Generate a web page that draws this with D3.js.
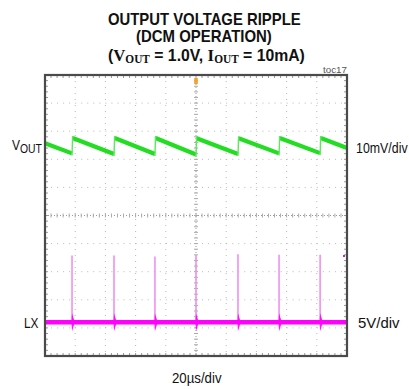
<!DOCTYPE html>
<html>
<head>
<meta charset="utf-8">
<script src="https://cdn.jsdelivr.net/npm/d3@7"></script>
<style>
  html, body { margin: 0; padding: 0; background: #fff; }
  svg { display: block; }
</style>
</head>
<body>
<svg id="scope" width="409" height="389"></svg>
<script>
// Horizontal: 20 µs/div, 10 divisions
const timeDomainUs = [0, 200];
// Vertical: 10 divisions, centre = 0
const divDomain = [-5, 5];
const voutScaleMvPerDiv = 10;
const lxScaleVPerDiv = 5;
const lxGroundDiv = -3.8;

// Switching instants (µs)
const switchTimesUs = [17.9, 45.7, 72.8, 100.0, 127.8, 155.0, 182.2];
// VOUT ripple (mV, referred to screen centre)
const voutStartMv = 25.7;
const voutPeaksMv = [27.6, 27.6, 27.6, 27.5, 27.5, 27.6, 27.6];
const voutTroughsMv = [22.1, 21.9, 21.9, 21.7, 21.9, 22.1, 22.2];
const voutEndMv = 24.0;
// LX switching spikes (V) and ring amplitude (V)
const lxSpikeV = [11.9, 11.9, 11.7, 11.9, 12.1, 12.0, 12.0];
const lxRingV = 1.6;

const svg = d3.select("#scope");
const frame = { left: 45, right: 347, top: 75, bottom: 356 };

const x = d3.scaleLinear().domain(timeDomainUs).range([frame.left, frame.right]);
const y = d3.scaleLinear().domain(divDomain).range([frame.bottom, frame.top]);
const yVout = mv => y(mv / voutScaleMvPerDiv);
const yLx = v => y(lxGroundDiv + v / lxScaleVPerDiv);

const SANS = "'Liberation Sans', Arial, Helvetica, sans-serif";
const SERIF = "'Liberation Serif', 'Times New Roman', serif";

// Squeeze a text node horizontally to a given width, left-aligned at x0
function fitText(node, x0, width) {
  const bb = node.getBBox();
  const s = width / bb.width;
  d3.select(node).attr("transform", `translate(${x0 - bb.x * s},0) scale(${s},1)`);
}

// ---------- grid ----------
const grid = svg.append("g");
const xTicks = d3.range(0, 201, 20);
const yTicks = d3.range(-5, 6, 1);

grid.selectAll("line.gx").data(xTicks.filter(t => t > 0 && t < 200 && t !== 100))
  .join("line").attr("class", "gx")
  .attr("x1", d => x(d)).attr("x2", d => x(d))
  .attr("y1", frame.top).attr("y2", frame.bottom)
  .attr("stroke", "#b8b8b8").attr("stroke-width", 1).attr("stroke-dasharray", "1,5");

grid.selectAll("line.gy").data(yTicks.filter(t => t > -5 && t < 5 && t !== 0))
  .join("line").attr("class", "gy")
  .attr("x1", frame.left).attr("x2", frame.right)
  .attr("y1", d => y(d)).attr("y2", d => y(d))
  .attr("stroke", "#b8b8b8").attr("stroke-width", 1).attr("stroke-dasharray", "1,5.04");

// centre cross with minor ticks
grid.append("line")
  .attr("x1", x(100)).attr("x2", x(100)).attr("y1", frame.top).attr("y2", frame.bottom)
  .attr("stroke", "#999").attr("stroke-dasharray", "1,2");
grid.append("line")
  .attr("x1", frame.left).attr("x2", frame.right).attr("y1", y(0)).attr("y2", y(0))
  .attr("stroke", "#999").attr("stroke-dasharray", "1,2");

const minorX = d3.range(0, 200.01, 4);
const minorY = d3.range(-5, 5.001, 0.2);
grid.selectAll("line.mxc").data(minorX).join("line").attr("class", "mxc")
  .attr("x1", d => x(d)).attr("x2", d => x(d))
  .attr("y1", y(0) - 2).attr("y2", y(0) + 2).attr("stroke", "#aaa");
grid.selectAll("line.myc").data(minorY).join("line").attr("class", "myc")
  .attr("y1", d => y(d)).attr("y2", d => y(d))
  .attr("x1", x(100) - 2).attr("x2", x(100) + 2).attr("stroke", "#aaa");

// minor ticks along the frame edges
grid.selectAll("line.mxt").data(minorX).join("line").attr("class", "mxt")
  .attr("x1", d => x(d)).attr("x2", d => x(d))
  .attr("y1", frame.top).attr("y2", frame.top + 3).attr("stroke", "#999");
grid.selectAll("line.mxb").data(minorX).join("line").attr("class", "mxb")
  .attr("x1", d => x(d)).attr("x2", d => x(d))
  .attr("y1", frame.bottom).attr("y2", frame.bottom - 3).attr("stroke", "#999");
grid.selectAll("line.myl").data(minorY).join("line").attr("class", "myl")
  .attr("y1", d => y(d)).attr("y2", d => y(d))
  .attr("x1", frame.left).attr("x2", frame.left + 3).attr("stroke", "#999");
grid.selectAll("line.myr").data(minorY).join("line").attr("class", "myr")
  .attr("y1", d => y(d)).attr("y2", d => y(d))
  .attr("x1", frame.right).attr("x2", frame.right - 3).attr("stroke", "#999");

// ---------- VOUT trace ----------
const green = "#22dd22";
const vout = svg.append("g");
const ramps = [];
ramps.push([[timeDomainUs[0], voutStartMv], [switchTimesUs[0], voutTroughsMv[0]]]);
switchTimesUs.forEach((t, i) => {
  const tNext = i + 1 < switchTimesUs.length ? switchTimesUs[i + 1] : timeDomainUs[1];
  const vNext = i + 1 < switchTimesUs.length ? voutTroughsMv[i + 1] : voutEndMv;
  ramps.push([[t + 0.4, voutPeaksMv[i]], [tNext, vNext]]);
});
const rampLine = d3.line().x(d => x(d[0])).y(d => yVout(d[1]));
vout.selectAll("path.ramp").data(ramps).join("path").attr("class", "ramp")
  .attr("d", rampLine).attr("fill", "none")
  .attr("stroke", green).attr("stroke-width", 4.2).attr("stroke-linecap", "butt");
// rising edges at each switching event
vout.selectAll("line.edge").data(switchTimesUs).join("line").attr("class", "edge")
  .attr("x1", d => x(d)).attr("x2", (d) => x(d + 0.4))
  .attr("y1", (d, i) => yVout(voutTroughsMv[i]) + 2)
  .attr("y2", (d, i) => yVout(voutPeaksMv[i]) - 2)
  .attr("stroke", "#5ee85e").attr("stroke-width", 1.4);

// ---------- LX trace ----------
const magenta = "#ff00ff";
const lx = svg.append("g");
lx.selectAll("line.spike").data(switchTimesUs).join("line").attr("class", "spike")
  .attr("x1", d => x(d)).attr("x2", d => x(d))
  .attr("y1", yLx(0)).attr("y2", (d, i) => yLx(lxSpikeV[i]))
  .attr("stroke", "#f090f0").attr("stroke-width", 1.6);
lx.append("line")
  .attr("x1", x(timeDomainUs[0])).attr("x2", x(timeDomainUs[1]))
  .attr("y1", yLx(0)).attr("y2", yLx(0))
  .attr("stroke", magenta).attr("stroke-width", 4.6);
// ringing after each edge
lx.selectAll("path.ring").data(switchTimesUs).join("path").attr("class", "ring")
  .attr("d", d => {
    const cx = x(d), cy = yLx(0), a = yLx(0) - yLx(lxRingV);
    return `M${cx},${cy - a} L${cx + 2.2},${cy - 2} L${cx + 4.5},${cy} L${cx + 2.2},${cy + 2} L${cx},${cy + a} L${cx - 0.6},${cy} Z`;
  })
  .attr("fill", magenta).attr("opacity", 0.9);
// channel marker dot
svg.append("rect").attr("x", 343).attr("y", 255).attr("width", 2).attr("height", 2).attr("fill", "#d020d0");

// trigger position marker
svg.append("rect").attr("x", x(100) - 1.8).attr("y", frame.top + 3).attr("width", 3.6).attr("height", 6)
  .attr("fill", "#f5a030");

// ---------- frame ----------
svg.append("rect")
  .attr("x", frame.left).attr("y", frame.top)
  .attr("width", frame.right - frame.left).attr("height", frame.bottom - frame.top)
  .attr("fill", "none").attr("stroke", "#4a4a4a").attr("stroke-width", 2.2);

// ---------- text ----------
const t1 = svg.append("text").attr("y", 25).attr("font-family", SANS).attr("font-weight", "bold")
  .attr("font-size", 16).attr("fill", "#111").text("OUTPUT VOLTAGE RIPPLE");
fitText(t1.node(), 108, 193);
const t2 = svg.append("text").attr("y", 42.5).attr("font-family", SANS).attr("font-weight", "bold")
  .attr("font-size", 16).attr("fill", "#111").text("(DCM OPERATION)");
fitText(t2.node(), 136, 136);
const t3 = svg.append("text").attr("y", 61).attr("font-family", SANS).attr("font-weight", "bold")
  .attr("font-size", 16).attr("fill", "#111");
t3.append("tspan").text("(");
t3.append("tspan").attr("font-family", SERIF).attr("font-size", 17).text("V");
t3.append("tspan").attr("font-family", SERIF).attr("font-size", 11.5).attr("dy", 2.5).text("OUT");
t3.append("tspan").attr("dy", -2.5).text(" = 1.0V, ");
t3.append("tspan").attr("font-family", SERIF).attr("font-size", 17).text("I");
t3.append("tspan").attr("font-family", SERIF).attr("font-size", 11.5).attr("dy", 2.5).text("OUT");
t3.append("tspan").attr("dy", -2.5).text(" = 10mA)");
fitText(t3.node(), 108, 197);

const toc = svg.append("text").attr("y", 73).attr("font-family", SANS).attr("font-size", 9.5)
  .attr("fill", "#555").text("toc17");
fitText(toc.node(), 323, 24);

const vLab = svg.append("text").attr("y", 150.5).attr("font-family", SANS).attr("font-size", 15).attr("fill", "#111");
vLab.append("tspan").text("V");
vLab.append("tspan").attr("font-size", 13).attr("dy", 2.5).text("OUT");
fitText(vLab.node(), 12, 30);

const lxLab = svg.append("text").attr("y", 328).attr("font-family", SANS).attr("font-size", 15.5)
  .attr("fill", "#111").text("LX");
fitText(lxLab.node(), 24, 15);

const r1 = svg.append("text").attr("y", 153).attr("font-family", SANS).attr("font-size", 15)
  .attr("fill", "#111").text("10mV/div");
fitText(r1.node(), 356, 52);
const r2 = svg.append("text").attr("y", 328).attr("font-family", SANS).attr("font-size", 15)
  .attr("fill", "#111").text("5V/div");
fitText(r2.node(), 358, 42);

const bLab = svg.append("text").attr("y", 383).attr("font-family", SANS).attr("font-size", 15)
  .attr("fill", "#111").text("20µs/div");
fitText(bLab.node(), 172, 50);
</script>
</body>
</html>
